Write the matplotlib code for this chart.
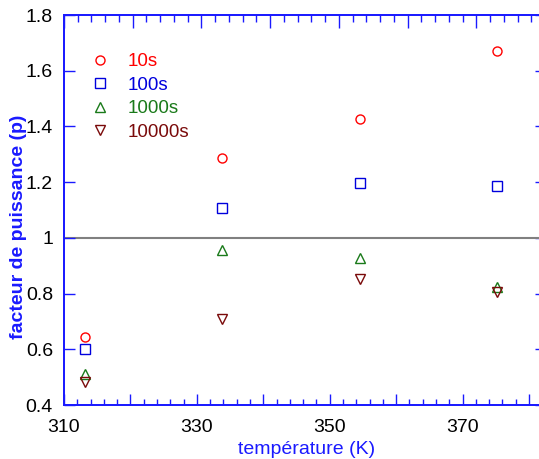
import matplotlib
matplotlib.use("Agg")
import matplotlib.pyplot as plt
from matplotlib.ticker import MultipleLocator
from matplotlib.lines import Line2D

temperature = [313, 333, 353, 373]
p_10s = [0.643, 1.285, 1.428, 1.672]
p_100s = [0.600, 1.106, 1.196, 1.186]
p_1000s = [0.512, 0.956, 0.926, 0.825]
p_10000s = [0.484, 0.710, 0.851, 0.804]
series_labels = ["10s", "100s", "1000s", "10000s"]
xticks = [310, 330, 350, 370]
yticks = [0.4, 0.6, 0.8, 1.0, 1.2, 1.4, 1.6, 1.8]
yticklabels = ["0.4", "0.6", "0.8", "1", "1.2", "1.4", "1.6", "1.8"]

plt.rcParams['font.family'] = ['Liberation Sans', 'DejaVu Sans']

W, H = 539, 459
fig = plt.figure(figsize=(W / 100, H / 100), dpi=100)
ax = fig.add_axes([64 / W, (H - 405) / H, (539 - 64) / W, (405 - 15) / H])

axis_blue = "#1a1aff"
for s in ax.spines.values():
    s.set_color(axis_blue)
    s.set_linewidth(1.3)
ax.spines['right'].set_visible(False)

ax.set_xlim(310, 381.5)
ax.set_ylim(0.4, 1.8)
ax.xaxis.set_major_locator(MultipleLocator(10))
ax.xaxis.set_minor_locator(MultipleLocator(2))
ax.xaxis.set_major_formatter(plt.FuncFormatter(
    lambda v, p: f"{int(round(v))}" if int(round(v)) in xticks else ""))
ax.set_yticks(yticks, labels=yticklabels)
ax.tick_params(axis='x', which='major', direction='in', length=8, width=1, color=axis_blue,
               labelsize=14, labelcolor='black', pad=10, top=False)
ax.tick_params(axis='x', which='minor', direction='in', length=4, width=1, color=axis_blue, top=False)
ax.tick_params(axis='y', which='major', direction='in', length=8, width=1, color=axis_blue,
               labelsize=14, labelcolor='black', pad=8, right=False)

# right-side short ticks
axr = ax.secondary_yaxis('right')
axr.set_yticks(yticks)
axr.tick_params(direction='in', length=3, width=1, color=axis_blue, labelright=False)
axr.spines['right'].set_visible(False)

# top axis (data plotted on this scale)
ax2 = ax.twiny()
ax2.set_xlim(310, 379.1)
ax2.xaxis.set_major_locator(MultipleLocator(10))
ax2.xaxis.set_minor_locator(MultipleLocator(2))
ax2.tick_params(axis='x', which='major', direction='in', length=9, width=1, color=axis_blue,
                labeltop=False, labelbottom=False)
ax2.tick_params(axis='x', which='minor', direction='in', length=5, width=1, color=axis_blue)
for s in ax2.spines.values():
    s.set_color(axis_blue)
    s.set_linewidth(1.3)
ax2.spines['right'].set_visible(False)

ax.axhline(1.0, color="#808080", lw=1.5, zorder=1)

colors = ["#ff0000", "#0000dd", "#1a7a1a", "#7a0a0a"]
markers = ["o", "s", "^", "v"]
series = [p_10s, p_100s, p_1000s, p_10000s]
for vals, c, m in zip(series, colors, markers):
    ax2.plot(temperature, vals, linestyle='none', marker=m, markersize=6.5,
             markerfacecolor='none', markeredgecolor=c, markeredgewidth=1.0, zorder=3)

handles = [Line2D([], [], linestyle='none', marker=m, markersize=6.5, markerfacecolor='none',
                  markeredgecolor=c, markeredgewidth=1.0) for m, c in zip(markers, colors)]
leg = ax2.legend(handles, series_labels, loc='upper left',
                 bbox_to_anchor=((90.6 - 64) / 475, (405 - 53) / 390),
                 frameon=False, fontsize=13.5, handlelength=1.0, handletextpad=1.0,
                 labelspacing=0.34, borderpad=0, borderaxespad=0, labelcolor=colors)

ax.set_xlabel("température (K)", color="#1a1aff", fontsize=14)
ax.xaxis.set_label_coords((306.5 - 64) / 475, (405 - 441) / 390)
ax.set_ylabel("facteur de puissance (p)", color="#1a1aff", fontsize=14, fontweight='bold')
ax.yaxis.set_label_coords((27 - 64) / 475, (405 - 227) / 390)

fig.savefig("out.png", dpi=100)
